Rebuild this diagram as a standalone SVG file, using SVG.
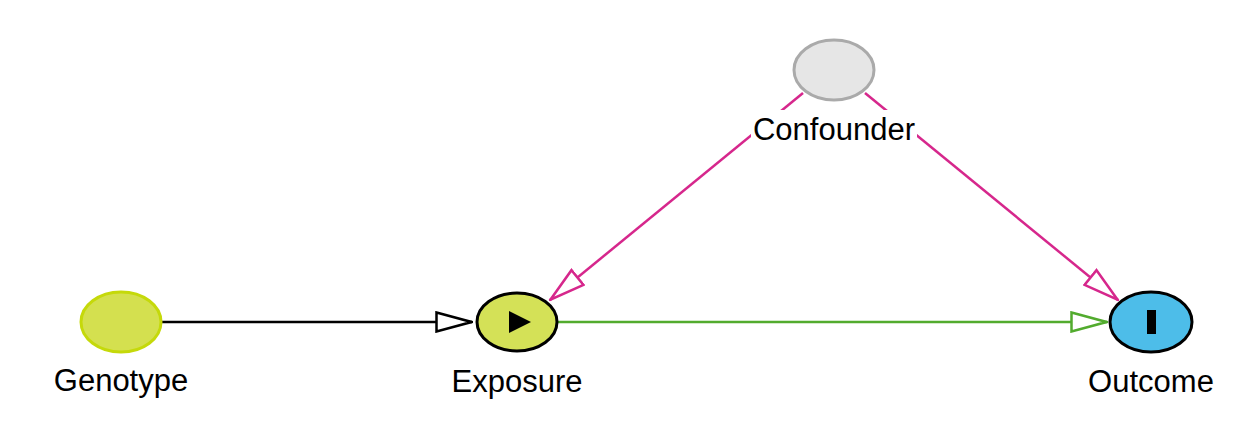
<svg xmlns="http://www.w3.org/2000/svg" width="1257" height="425" viewBox="0 0 1257 425">
<style>
.lbl{font-family:"Liberation Sans",Arial,sans-serif;font-size:31px;fill:#000;text-anchor:middle}
.edge{fill:none;stroke-width:2.5}
</style>
<defs>
<marker id="aBlack" markerUnits="userSpaceOnUse" viewBox="0 0 38 22" refX="37" refY="11" markerWidth="38" markerHeight="22" orient="auto"><path d="M1.5,1.5 L36.5,11 L1.5,20.5 Z" fill="#fff" stroke="#000" stroke-width="2.5"/></marker>
<marker id="aGreen" markerUnits="userSpaceOnUse" viewBox="0 0 38 22" refX="37" refY="11" markerWidth="38" markerHeight="22" orient="auto"><path d="M1.5,1.5 L36.5,11 L1.5,20.5 Z" fill="#fff" stroke="#52ab2e" stroke-width="2.5"/></marker>
<marker id="aPink" markerUnits="userSpaceOnUse" viewBox="0 0 38 22" refX="37" refY="11" markerWidth="38" markerHeight="22" orient="auto"><path d="M1.5,1.5 L36.5,11 L1.5,20.5 Z" fill="#fff" stroke="#d6278c" stroke-width="2.5"/></marker>
</defs>
<rect width="1257" height="425" fill="#fff"/>
<g id="connectors">
<line class="edge" x1="162" y1="322" x2="472" y2="322" stroke="#000" marker-end="url(#aBlack)"/>
<line class="edge" x1="558" y1="322" x2="1107" y2="322" stroke="#52ab2e" marker-end="url(#aGreen)"/>
<line class="edge" x1="803" y1="93" x2="550" y2="300" stroke="#d6278c" marker-end="url(#aPink)"/>
<line class="edge" x1="865" y1="93" x2="1118" y2="300" stroke="#d6278c" marker-end="url(#aPink)"/>
</g>
<g id="node-confounder">
<ellipse cx="834" cy="70" rx="40" ry="30" fill="#e6e6e6" stroke="#aaaaaa" stroke-width="3"/>
<rect x="751" y="110" width="166" height="38" fill="#fff"/>
<text class="lbl" x="834" y="140">Confounder</text>
</g>
<g id="node-genotype">
<ellipse cx="121" cy="322" rx="40" ry="30" fill="#d4e04f" stroke="#c5d90a" stroke-width="3"/>
<text class="lbl" x="121" y="391">Genotype</text>
</g>
<g id="node-exposure">
<ellipse cx="517" cy="322" rx="40" ry="29" fill="#d4e157" stroke="#000" stroke-width="3"/>
<path d="M509,311 L531,322 L509,333 Z" fill="#000"/>
<text class="lbl" x="517" y="392">Exposure</text>
</g>
<g id="node-outcome">
<ellipse cx="1151" cy="322" rx="41" ry="30" fill="#4dbde9" stroke="#000" stroke-width="3"/>
<rect x="1147" y="310" width="9" height="24" fill="#000"/>
<text class="lbl" x="1151" y="392">Outcome</text>
</g>
</svg>
